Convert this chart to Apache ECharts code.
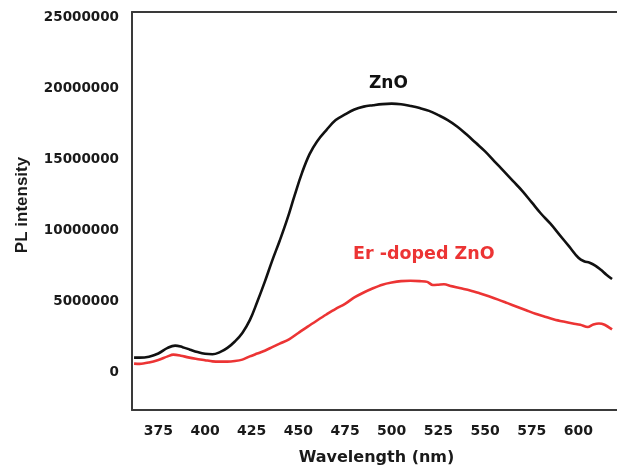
<!DOCTYPE html>
<html>
<head>
<meta charset="utf-8">
<script src="https://cdn.jsdelivr.net/npm/echarts@6/dist/echarts.min.js"></script>
<style>
  html, body { margin: 0; padding: 0; background: #fff; }
  #chart { width: 617px; height: 468px; }
</style>
</head>
<body>
<div id="chart"></div>
<script>
// Photoluminescence spectra: wavelength (nm) and intensity for each sample
const wavelengthZnO = [362, 365, 370, 375, 380, 384, 388, 392, 396, 400, 404, 408, 412, 416, 420, 424, 428, 432, 436, 440,
  444, 448, 452, 456, 460, 465, 470, 475, 480, 485, 490, 495, 500, 505, 510, 515, 520, 525, 530, 535,
  540, 545, 550, 555, 560, 565, 570, 575, 580, 585, 590, 595, 600, 603, 606, 609, 612, 615, 618];
const intensityZnO = [1.06e6, 1.06e6, 1.13e6, 1.35e6, 1.75e6, 1.91e6, 1.80e6, 1.62e6, 1.45e6, 1.33e6, 1.30e6, 1.45e6, 1.75e6, 2.20e6, 2.80e6, 3.70e6, 5.00e6, 6.40e6, 7.90e6, 9.30e6,
  10.8e6, 12.5e6, 14.1e6, 15.4e6, 16.3e6, 17.1e6, 17.8e6, 18.2e6, 18.55e6, 18.75e6, 18.85e6, 18.93e6, 18.96e6, 18.92e6, 18.8e6, 18.65e6, 18.45e6, 18.15e6, 17.8e6, 17.35e6,
  16.8e6, 16.2e6, 15.6e6, 14.9e6, 14.2e6, 13.5e6, 12.8e6, 12.0e6, 11.2e6, 10.5e6, 9.7e6, 8.9e6, 8.1e6, 7.85e6, 7.75e6, 7.55e6, 7.25e6, 6.9e6, 6.6e6];

const wavelengthEr = [362, 365, 370, 375, 380, 383, 387, 391, 395, 400, 404, 408, 412, 416, 420, 424, 428, 432, 436, 440,
  445, 450, 455, 460, 465, 470, 475, 480, 485, 490, 495, 500, 505, 510, 515, 519, 522, 525, 528, 532,
  537, 542, 547, 552, 557, 562, 567, 572, 577, 582, 587, 592, 597, 601, 605, 608, 611, 614, 618];
const intensityEr = [0.64e6, 0.62e6, 0.72e6, 0.90e6, 1.15e6, 1.27e6, 1.20e6, 1.08e6, 0.98e6, 0.88e6, 0.80e6, 0.78e6, 0.78e6, 0.82e6, 0.92e6, 1.15e6, 1.35e6, 1.55e6, 1.80e6, 2.05e6,
  2.35e6, 2.80e6, 3.25e6, 3.68e6, 4.10e6, 4.50e6, 4.85e6, 5.30e6, 5.65e6, 5.95e6, 6.20e6, 6.35e6, 6.45e6, 6.48e6, 6.45e6, 6.40e6, 6.18e6, 6.20e6, 6.23e6, 6.10e6,
  5.95e6, 5.80e6, 5.60e6, 5.38e6, 5.15e6, 4.90e6, 4.65e6, 4.40e6, 4.15e6, 3.95e6, 3.75e6, 3.60e6, 3.47e6, 3.38e6, 3.22e6, 3.40e6, 3.47e6, 3.38e6, 3.05e6];

const xTicks = [375, 400, 425, 450, 475, 500, 525, 550, 575, 600];
const yTicks = [0, 5000000, 10000000, 15000000, 20000000, 25000000];

const toPairs = (xs, ys) => xs.map((x, i) => [x, ys[i]]);

const chart = echarts.init(document.getElementById('chart'), null, { renderer: 'canvas' });

const frameColor = '#3a3a3a';
const tickFont = 'DejaVu Sans';

chart.setOption({
  animation: false,
  backgroundColor: '#ffffff',
  grid: { left: 132, top: 12, right: -4, bottom: 58, containLabel: false, outerBoundsMode: 'none' },
  xAxis: [{
    type: 'value',
    min: 360.9,
    max: 622.8,
    position: 'bottom',
    name: 'Wavelength (nm)',
    nameLocation: 'middle',
    nameGap: 40,
    nameTextStyle: { fontFamily: tickFont, fontWeight: 'bold', fontSize: 16, color: '#1a1a1a' },
    axisLine: { show: true, onZero: false, lineStyle: { color: frameColor, width: 2 } },
    axisTick: { show: false },
    splitLine: { show: false },
    axisLabel: {
      customValues: xTicks,
      margin: 14,
      fontFamily: tickFont, fontWeight: 'bold', fontSize: 14, color: '#1a1a1a'
    }
  }, {
    type: 'value',
    min: 360.9,
    max: 622.8,
    position: 'top',
    axisLine: { show: true, onZero: false, lineStyle: { color: frameColor, width: 2 } },
    axisTick: { show: false },
    axisLabel: { show: false },
    splitLine: { show: false }
  }],
  yAxis: {
    type: 'value',
    min: -2630000,
    max: 25420000,
    name: 'PL intensity',
    nameLocation: 'middle',
    nameGap: 101,
    nameTextStyle: { fontFamily: 'Liberation Sans', fontWeight: 'bold', fontSize: 17, color: '#1a1a1a', padding: [0, 0, 0, 12] },
    axisLine: { show: true, onZero: false, lineStyle: { color: frameColor, width: 2 } },
    axisTick: { show: false },
    splitLine: { show: false },
    axisLabel: {
      customValues: yTicks,
      formatter: v => String(v),
      margin: 13,
      fontFamily: tickFont, fontWeight: 'bold', fontSize: 13.5, color: '#1a1a1a'
    }
  },
  series: [{
    name: 'ZnO',
    type: 'line',
    data: toPairs(wavelengthZnO, intensityZnO),
    smooth: 0.4,
    symbol: 'none',
    lineStyle: { color: '#111111', width: 2.6 },
    z: 3
  }, {
    name: 'Er -doped ZnO',
    type: 'line',
    data: toPairs(wavelengthEr, intensityEr),
    smooth: 0.3,
    symbol: 'none',
    lineStyle: { color: '#ec3434', width: 2.6 },
    z: 2
  }],
  graphic: [{
    type: 'text',
    left: 369, top: 75,
    style: { text: 'ZnO', fill: '#111111', font: 'bold 17px "DejaVu Sans"' }
  }, {
    type: 'text',
    left: 353, top: 245,
    style: { text: 'Er -doped ZnO', fill: '#ec3434', font: 'bold 17.5px "DejaVu Sans"' }
  }]
});
</script>
</body>
</html>
